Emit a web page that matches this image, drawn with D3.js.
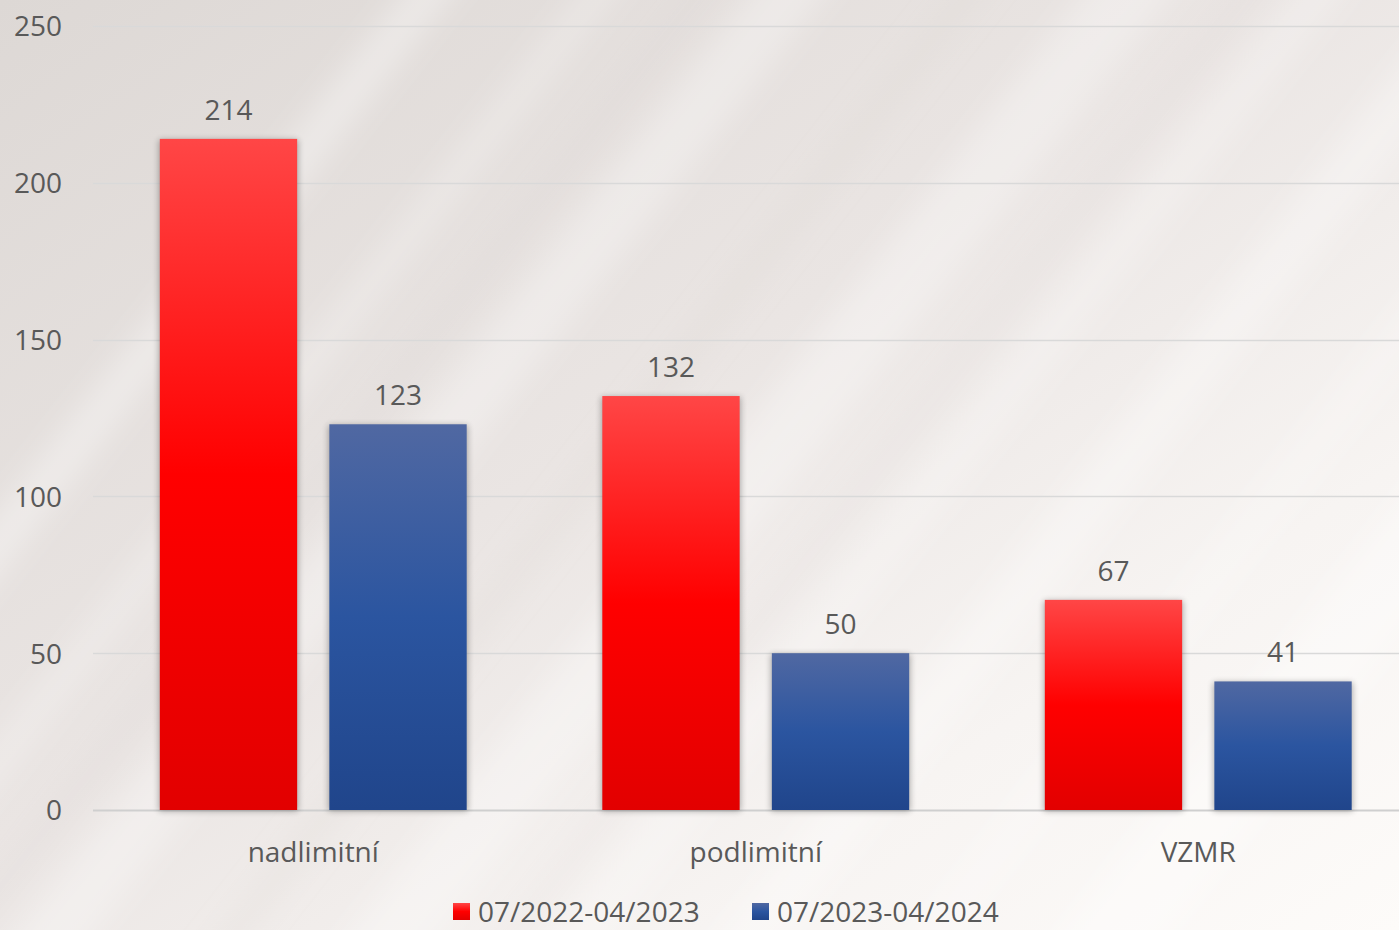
<!DOCTYPE html>
<html>
<head>
<meta charset="utf-8">
<script src="https://cdn.jsdelivr.net/npm/d3@7"></script>
<style>
  html, body { margin: 0; padding: 0; overflow: hidden; }
  svg { display: block; }
  text { font-family: "Open Sans", "Noto Sans", sans-serif; fill: #595959; }
</style>
</head>
<body>
<svg id="chart" width="1399" height="930"></svg>
<script>
const categories = ["nadlimitní", "podlimitní", "VZMR"];
const seriesNames = ["07/2022-04/2023", "07/2023-04/2024"];
const series2022 = [214, 132, 67];
const series2023 = [123, 50, 41];
const yTicks = [0, 50, 100, 150, 200, 250];

const W = 1399, H = 930;
const svg = d3.select("#chart");
const defs = svg.append("defs");

// background
const bg = defs.append("linearGradient").attr("id", "bg")
  .attr("x1", "0").attr("y1", "0").attr("x2", "1").attr("y2", "1");
bg.append("stop").attr("offset", "0%").attr("stop-color", "#ddd8d5");
bg.append("stop").attr("offset", "45%").attr("stop-color", "#eae5e3");
bg.append("stop").attr("offset", "75%").attr("stop-color", "#f7f4f2");
bg.append("stop").attr("offset", "100%").attr("stop-color", "#fdfbf9");
svg.append("rect").attr("width", W).attr("height", H).attr("fill", "url(#bg)");

// diagonal streaks (decoration)
const blur = defs.append("filter").attr("id", "streakBlur")
  .attr("x", "-50%").attr("y", "-50%").attr("width", "200%").attr("height", "200%");
blur.append("feGaussianBlur").attr("stdDeviation", 14);
const streaks = [
  [60, 40, 0.35, "#ffffff"], [230, 30, 0.25, "#ffffff"], [420, 60, 0.3, "#ffffff"],
  [600, 25, 0.2, "#d8d2cf"], [760, 70, 0.3, "#ffffff"], [950, 40, 0.25, "#ffffff"],
  [1120, 50, 0.3, "#ffffff"], [1300, 35, 0.2, "#ffffff"], [1480, 80, 0.35, "#ffffff"],
  [330, 20, 0.18, "#d5cfcc"], [880, 25, 0.15, "#d8d2cf"]
];
const sg = svg.append("g").attr("filter", "url(#streakBlur)");
streaks.forEach(([cx, w, op, col]) => {
  sg.append("rect")
    .attr("x", cx - w / 2).attr("y", -700).attr("width", w).attr("height", 2400)
    .attr("fill", col).attr("opacity", op)
    .attr("transform", `rotate(38 ${cx} 465)`);
});

// scales
const y = d3.scaleLinear().domain([0, 250]).range([810, 26]);
const x0 = d3.scaleBand().domain(categories).range([92, 1419.5]).padding(0);
const x1 = d3.scaleBand().domain(seriesNames).range([0, x0.bandwidth()])
  .paddingInner(0.19).paddingOuter(0.4);

// gridlines
const grid = svg.append("g");
grid.selectAll("line").data(yTicks).join("line")
  .attr("x1", 93).attr("x2", W)
  .attr("y1", d => Math.round(y(d)) + 0.5).attr("y2", d => Math.round(y(d)) + 0.5)
  .attr("stroke", d => d === 0 ? "#cfcfcf" : "#d9d9d9")
  .attr("stroke-width", d => d === 0 ? 2 : 1.3);

// y tick labels via axis
const yAxis = svg.append("g").attr("transform", "translate(62,0)")
  .call(d3.axisLeft(y).tickValues(yTicks).tickSize(0).tickPadding(0));
yAxis.select(".domain").remove();
yAxis.selectAll("text").attr("font-size", 28).attr("fill", "#595959")
  .attr("font-family", "'Open Sans', sans-serif").attr("dy", "0.35em");

// gradients for bars
function vgrad(id, stops) {
  const g = defs.append("linearGradient").attr("id", id)
    .attr("x1", "0").attr("y1", "0").attr("x2", "0").attr("y2", "1");
  stops.forEach(([o, c]) => g.append("stop").attr("offset", o).attr("stop-color", c));
}
vgrad("gRed", [["0%", "#ff4646"], ["50%", "#ff0000"], ["100%", "#e20000"]]);
vgrad("gBlue", [["0%", "#5068a2"], ["50%", "#2b55a0"], ["100%", "#20458b"]]);
const fills = ["url(#gRed)", "url(#gBlue)"];

const shadow = defs.append("filter").attr("id", "shadow")
  .attr("x", "-20%").attr("y", "-10%").attr("width", "140%").attr("height", "120%");
shadow.append("feGaussianBlur").attr("stdDeviation", 3);

const seriesData = [series2022, series2023];
const data = categories.map((c, i) => ({
  cat: c,
  vals: seriesNames.map((s, j) => ({ s, j, v: seriesData[j][i] }))
}));

const groups = svg.append("g").selectAll("g").data(data).join("g")
  .attr("transform", d => `translate(${x0(d.cat)},0)`);

// shadows behind bars
groups.selectAll("rect.sh").data(d => d.vals).join("rect")
  .attr("class", "sh")
  .attr("x", d => x1(d.s) - 1).attr("width", x1.bandwidth() + 2)
  .attr("y", d => y(d.v) + 1).attr("height", d => y(0) - y(d.v))
  .attr("fill", "#000").attr("opacity", 0.3).attr("filter", "url(#shadow)");

groups.selectAll("rect.bar").data(d => d.vals).join("rect")
  .attr("class", "bar")
  .attr("x", d => x1(d.s)).attr("width", x1.bandwidth())
  .attr("y", d => y(d.v)).attr("height", d => y(0) - y(d.v))
  .attr("fill", d => fills[d.j]);

groups.selectAll("text.val").data(d => d.vals).join("text")
  .attr("class", "val")
  .attr("x", d => x1(d.s) + x1.bandwidth() / 2)
  .attr("y", d => y(d.v) - 19)
  .attr("text-anchor", "middle").attr("font-size", 28).attr("fill", "#404040")
  .text(d => d.v);

// x category labels
const xAxis = svg.append("g").attr("transform", "translate(0,810)")
  .call(d3.axisBottom(x0).tickSize(0).tickPadding(0));
xAxis.select(".domain").remove();
xAxis.selectAll("text").attr("font-size", 28).attr("fill", "#595959")
  .attr("font-family", "'Open Sans', sans-serif")
  .attr("y", 52).attr("dy", 0);

// legend
const legendX = [453, 752];
const lg = svg.append("g").selectAll("g").data(seriesNames).join("g")
  .attr("transform", (d, i) => `translate(${legendX[i]},903)`);
lg.append("rect").attr("width", 17).attr("height", 17)
  .attr("fill", (d, i) => fills[i]);
lg.append("text").attr("x", 25).attr("y", 19).attr("font-size", 28)
  .attr("fill", "#595959").text(d => d);
</script>
</body>
</html>
